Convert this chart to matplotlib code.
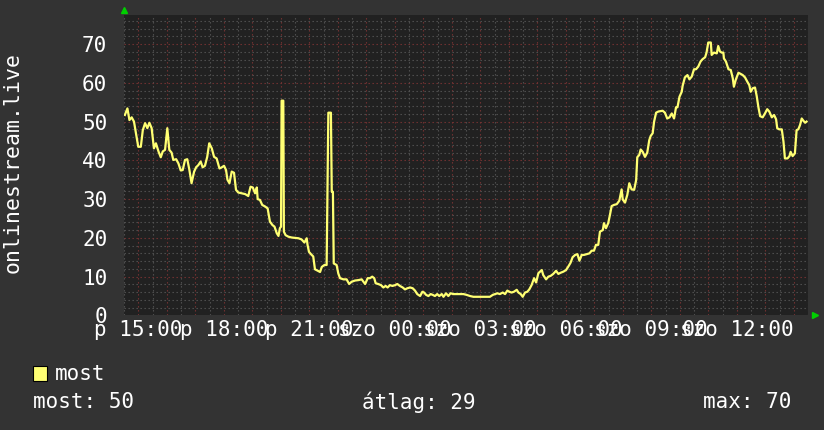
import numpy as np
import matplotlib.pyplot as plt
from matplotlib.patches import Rectangle

# hallgatók száma (órák 14:30 óta, péntek -> szombat)
hours = [0.03, 0.12, 0.19, 0.27, 0.35, 0.50, 0.59, 0.66, 0.74, 0.82, 0.89, 0.97, 1.05, 1.12, 1.21,
         1.29, 1.36, 1.44, 1.52, 1.59, 1.67, 1.73, 1.83, 1.91, 1.99, 2.06, 2.14, 2.22, 2.29, 2.37,
         2.46, 2.53, 2.61, 2.69, 2.76, 2.84, 2.92, 2.99, 3.08, 3.16, 3.25, 3.35, 3.43, 3.51, 3.58,
         3.63, 3.70, 3.78, 3.86, 3.93, 4.01, 4.13, 4.25, 4.36, 4.44, 4.52, 4.60, 4.66,
         4.69, 4.77, 4.85, 4.95, 5.04, 5.12, 5.21, 5.28, 5.36, 5.42, 5.47, 5.51, 5.53, 5.59, 5.61,
         5.67, 5.77, 5.88, 6.00, 6.12, 6.23, 6.33, 6.41, 6.44, 6.49, 6.56, 6.64, 6.70, 6.80, 6.88,
         6.94, 7.03, 7.11, 7.17, 7.26, 7.29, 7.33, 7.36, 7.46, 7.52, 7.58, 7.70, 7.81, 7.90, 7.99,
         8.11, 8.22, 8.34, 8.46, 8.55, 8.63, 8.71, 8.78, 8.83, 8.92, 9.02, 9.10, 9.18, 9.25, 9.33,
         9.42, 9.51,
         9.59, 9.68, 9.78, 9.86, 9.94, 10.04, 10.13, 10.21, 10.29, 10.39, 10.47, 10.53, 10.60,
         10.68, 10.76, 10.83, 10.91, 10.99, 11.06, 11.15, 11.21, 11.30, 11.38, 11.46, 11.56, 11.67,
         11.79, 11.91, 12.02, 12.14, 12.26, 12.37, 12.49, 12.61, 12.73, 12.84, 12.94, 13.02, 13.10,
         13.19, 13.29, 13.37, 13.45, 13.52, 13.60, 13.68, 13.78, 13.84, 13.92, 13.99, 14.07, 14.15,
         14.22, 14.30, 14.39, 14.46, 14.54, 14.60,
         14.66, 14.71, 14.81, 14.89, 14.97, 15.06, 15.16, 15.24, 15.32, 15.42, 15.51, 15.59, 15.67,
         15.74, 15.83, 15.91, 15.98, 16.06, 16.14, 16.23, 16.33, 16.41, 16.49, 16.56, 16.64, 16.70,
         16.80, 16.84, 16.91, 16.99, 17.05, 17.11, 17.19, 17.29, 17.38, 17.46, 17.50, 17.58, 17.66,
         17.73, 17.81, 17.90, 17.97, 18.01, 18.08, 18.13, 18.20, 18.28, 18.36, 18.43, 18.48, 18.55,
         18.60, 18.67, 18.75,
         18.90, 18.98, 19.06, 19.14, 19.22, 19.30, 19.37, 19.42, 19.49, 19.57, 19.60, 19.68, 19.77,
         19.84, 19.92, 20.00, 20.07, 20.15, 20.23, 20.30, 20.39, 20.44, 20.50, 20.59, 20.62, 20.70,
         20.80, 20.85, 20.91, 20.97, 21.03, 21.05, 21.12, 21.21, 21.29, 21.36, 21.40, 21.47, 21.56,
         21.64, 21.71, 21.79, 21.87, 21.94, 21.99, 22.06, 22.14, 22.20, 22.26, 22.32, 22.41, 22.49,
         22.57, 22.64, 22.73, 22.81, 22.88, 22.92, 22.99, 23.08, 23.14, 23.19, 23.28, 23.35, 23.39,
         23.46, 23.54, 23.60, 23.66, 23.72, 23.78, 23.84, 23.90, 23.95]
users = [51.7, 53.4, 50.4, 51.1, 50.0, 43.5, 43.5, 47.8, 49.6, 48.3, 49.7, 48.3, 43.1, 44.4, 42.3,
         40.8, 42.3, 42.7, 48.3, 42.7, 42.0, 40.1, 40.3, 39.2, 37.4, 37.5, 40.1, 40.3, 37.7, 34.1,
         37.1, 38.2, 38.8, 39.7, 38.2, 38.6, 40.9, 44.4, 43.1, 40.9, 40.5, 37.9, 38.2, 38.6, 37.5,
         35.0, 34.1, 37.1, 36.8, 32.4, 31.7, 31.5, 31.3, 30.8, 33.2, 33.0, 31.5, 33.0,
         30.0, 29.8, 28.5, 28.1, 27.6, 24.2, 23.3, 22.9, 21.2, 20.5, 22.5, 22.9, 55.4, 55.4, 21.6,
         20.7, 20.3, 20.1, 20.0, 19.9, 19.6, 18.8, 19.9, 18.2, 16.4, 15.8, 15.2, 11.9, 11.5, 11.2,
         12.5, 13.0, 13.0, 52.3, 52.3, 31.9, 31.9, 13.4, 13.0, 10.8, 9.6, 9.3, 9.3, 8.1, 8.7,
         9.0, 9.1, 9.3, 8.1, 9.6, 9.6, 10.0, 9.6, 8.3, 8.1, 7.8, 7.2, 7.6, 7.2, 7.8,
         7.6, 7.8,
         8.1, 7.6, 7.2, 6.7, 7.0, 7.2, 7.0, 6.4, 5.5, 5.0, 6.1, 5.9, 5.3,
         5.0, 5.5, 5.3, 5.0, 5.5, 5.0, 5.5, 4.8, 5.7, 5.0, 5.7, 5.5, 5.5,
         5.5, 5.5, 5.3, 5.0, 4.8, 4.8, 4.8, 4.8, 4.8, 4.8, 5.3, 5.5, 5.7,
         5.5, 5.9, 5.5, 6.4, 6.1, 5.9, 6.1, 6.6, 5.9, 5.5, 4.8, 5.9, 6.1,
         6.7, 7.8, 9.6, 8.5, 10.9, 11.3,
         11.7, 10.4, 9.3, 10.0, 10.2, 10.7, 11.5, 10.7, 11.0, 11.3, 11.7, 12.6, 13.6,
         15.0, 15.6, 15.8, 14.1, 15.6, 15.6, 15.8, 16.0, 16.7, 16.7, 18.2, 18.2, 21.6,
         22.0, 23.8, 22.5, 23.8, 25.9, 28.2, 28.5, 28.7, 29.6, 32.5, 29.9, 29.1, 31.1,
         34.1, 32.5, 32.4, 34.9, 40.8, 41.4, 42.8, 42.2, 40.9, 42.0, 45.2, 46.3, 47.0,
         50.0, 52.3, 52.6,
         52.8, 52.3, 50.8, 51.1, 52.1, 50.8, 53.7, 53.7, 56.4, 57.7, 59.2, 61.4, 62.0,
         60.9, 61.6, 63.5, 63.5, 64.2, 65.5, 66.1, 66.6, 67.8, 70.4, 70.4, 67.2, 67.8,
         67.6, 69.5, 68.1, 67.8, 67.8, 66.3, 65.5, 63.5, 63.3, 61.2, 59.0, 60.9, 62.6,
         62.3, 62.0, 61.4, 60.3, 59.4, 57.7, 58.6, 58.8, 56.6, 53.7, 51.4, 51.1, 52.1,
         53.2, 52.6, 51.1, 51.7, 50.6, 48.3, 48.0, 48.0, 44.8, 40.5, 40.5, 41.1, 42.2,
         41.1, 41.8, 47.8, 48.0, 49.1, 50.8, 50.2, 49.7, 50.0]

tick_hours = [15, 18, 21, 24, 27, 30, 33, 36]
tick_labels = ['p 15:00', 'p 18:00', 'p 21:00', 'szo 00:00',
               'szo 03:00', 'szo 06:00', 'szo 09:00', 'szo 12:00']
y_ticks = [0, 10, 20, 30, 40, 50, 60, 70]

stat_now = 50
stat_avg = 29
stat_max = 70

BG = '#333333'
PLOT_BG = '#212121'
LINE = '#ffff73'
TXT = '#ffffff'
MAJOR = '#7a3434'
MINOR = '#555555'
ARROW = '#00d000'

plt.rcParams['font.family'] = ['DejaVu Sans Mono', 'DejaVu Sans']

fig = plt.figure(figsize=(8.24, 4.30), dpi=100, facecolor=BG)
ax = fig.add_axes([124 / 824, 1 - 315.4 / 430, 684 / 824, 300.4 / 430])
ax.set_facecolor(PLOT_BG)

# rács: félóránként szürke, óránként piros; y: 2-esével szürke, 10-esével piros
for h in np.arange(14.5, 38.6, 1.0):
    ax.axvline(h, color=MINOR, lw=0.8, ls=(0, (1.2, 2.4)), zorder=1)
for h in np.arange(15, 39, 1):
    ax.axvline(h, color=MAJOR, lw=0.8, ls=(0, (1.2, 2.4)), zorder=1)
for v in range(2, 78, 2):
    c = MAJOR if v % 10 == 0 else MINOR
    ax.axhline(v, color=c, lw=0.8, ls=(0, (1.2, 2.4)), zorder=1)

t = 14.5 + np.array(hours)
ax.plot(t, users, color=LINE, lw=1.6, zorder=3)

ax.set_xlim(14.5, 38.5)
ax.set_ylim(0, 77.5)
ax.set_xticks(tick_hours, tick_labels)
ax.set_yticks(y_ticks)
ax.tick_params(axis='both', length=0, colors=TXT, labelsize=15)
ax.tick_params(axis='x', pad=3)
ax.tick_params(axis='y', pad=12)
for s in ax.spines.values():
    s.set_visible(False)

fig.text(13 / 824, 1 - 163 / 430, 'onlinestream.live', rotation=90,
         ha='center', va='center', fontsize=15.5, color=TXT)

# zöld nyilak a tengelyek végén
ax.plot([124 / 824], [1 - 10 / 430], marker='^', ms=5, color=ARROW,
        transform=fig.transFigure, clip_on=False)
ax.plot([815 / 824], [1 - 315 / 430], marker='>', ms=5, color=ARROW,
        transform=fig.transFigure, clip_on=False)

# jelmagyarázat
fig.add_artist(Rectangle((33 / 824, 1 - 381 / 430), 14 / 824, 15 / 430,
                         transform=fig.transFigure, facecolor=LINE,
                         edgecolor='black', lw=0.8))
fig.text(55 / 824, 1 - 374 / 430, 'most', va='center', fontsize=15, color=TXT)
fig.text(33 / 824, 1 - 402 / 430, f'most: {stat_now}', va='center', fontsize=15, color=TXT)
fig.text(418.5 / 824, 1 - 402 / 430, f'átlag: {stat_avg}', ha='center', va='center',
         fontsize=15, color=TXT)
fig.text(791 / 824, 1 - 402 / 430, f'max: {stat_max}', ha='right', va='center',
         fontsize=15, color=TXT)

fig.savefig('out.png', dpi=100, facecolor=BG)
